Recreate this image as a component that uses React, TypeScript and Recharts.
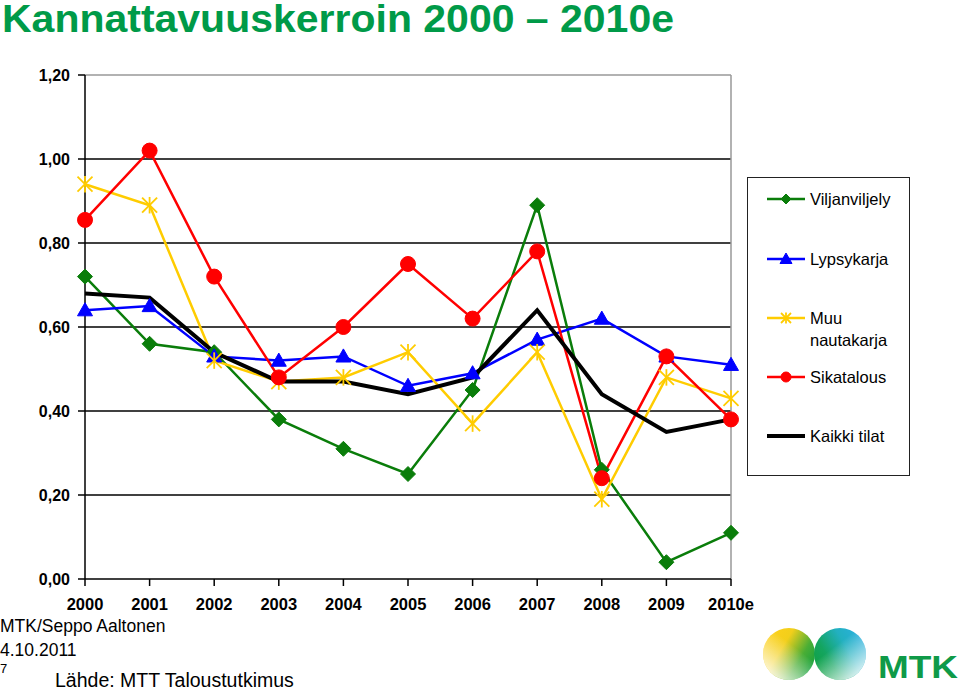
import React from "react";
import {
  LineChart,
  Line,
  XAxis,
  YAxis,
  ReferenceLine,
} from "recharts";

const years = ["2000", "2001", "2002", "2003", "2004", "2005", "2006", "2007", "2008", "2009", "2010e"];
const viljanviljely = [0.72, 0.56, 0.54, 0.38, 0.31, 0.25, 0.45, 0.89, 0.26, 0.04, 0.11];
const lypsykarja = [0.64, 0.65, 0.53, 0.52, 0.53, 0.46, 0.49, 0.57, 0.62, 0.53, 0.51];
const muuNautakarja = [0.94, 0.89, 0.52, 0.47, 0.48, 0.54, 0.37, 0.54, 0.19, 0.48, 0.43];
const sikatalous = [0.855, 1.02, 0.72, 0.48, 0.6, 0.75, 0.62, 0.78, 0.24, 0.53, 0.38];
const kaikkiTilat = [0.68, 0.67, 0.54, 0.47, 0.47, 0.44, 0.48, 0.64, 0.44, 0.35, 0.38];
const yTicks = [0, 0.2, 0.4, 0.6, 0.8, 1.0, 1.2];
const gridValues = [0.2, 0.4, 0.6, 0.8, 1.0];

const data = years.map((y, i) => ({
  year: y,
  vilja: viljanviljely[i],
  lypsy: lypsykarja[i],
  muu: muuNautakarja[i],
  sika: sikatalous[i],
  kaikki: kaikkiTilat[i],
}));

const GREEN = "#0a7d0a";
const BLUE = "#0000ff";
const YELLOW = "#ffcc00";
const RED = "#ff0000";
const BLACK = "#000000";
const FONT = "'Liberation Sans', Arial, sans-serif";

const Diamond = ({ cx, cy, s = 7.5 }: any) => (
  <path d={`M${cx},${cy - s} L${cx + s},${cy} L${cx},${cy + s} L${cx - s},${cy} Z`} fill={GREEN} stroke={GREEN} />
);
const Triangle = ({ cx, cy, s = 7.5 }: any) => (
  <path d={`M${cx},${cy - s} L${cx + s},${cy + s * 0.75} L${cx - s},${cy + s * 0.75} Z`} fill={BLUE} stroke={BLUE} />
);
const Star = ({ cx, cy, s = 7.5 }: any) => (
  <g stroke={YELLOW} strokeWidth={1.8}>
    <line x1={cx - s} y1={cy - s} x2={cx + s} y2={cy + s} />
    <line x1={cx - s} y1={cy + s} x2={cx + s} y2={cy - s} />
    <line x1={cx} y1={cy - s * 1.1} x2={cx} y2={cy + s * 1.1} />
  </g>
);
const Circle = ({ cx, cy, r = 7.5 }: any) => <circle cx={cx} cy={cy} r={r} fill={RED} stroke={RED} />;

const dotFn = (Comp: any) => (props: any) => {
  const { cx, cy, index } = props;
  if (cx == null || cy == null) return <g key={`d${index}`} />;
  return <Comp key={`d${index}`} cx={cx} cy={cy} />;
};

const legendItems = [
  { label: ["Viljanviljely"], color: GREEN, kind: "d", y: 21, w: 2.5 },
  { label: ["Lypsykarja"], color: BLUE, kind: "t", y: 81, w: 2.5 },
  { label: ["Muu", "nautakarja"], color: YELLOW, kind: "s", y: 140, w: 2.5 },
  { label: ["Sikatalous"], color: RED, kind: "c", y: 199, w: 2.5 },
  { label: ["Kaikki tilat"], color: BLACK, kind: "", y: 258, w: 4 },
];

const LegendBox = () => (
  <div
    style={{
      position: "absolute",
      left: 747,
      top: 177,
      width: 161,
      height: 297,
      border: "1.5px solid #222",
      background: "#fff",
      fontFamily: FONT,
      fontSize: 16.5,
      color: "#000",
    }}
  >
    {legendItems.map((it, i) => (
      <div key={i} style={{ position: "absolute", left: 0, top: it.y - 10, width: 160 }}>
        <svg width={60} height={20} style={{ position: "absolute", left: 0, top: 0 }}>
          <line x1={19} y1={10} x2={57} y2={10} stroke={it.color} strokeWidth={it.w} />
          {it.kind === "d" ? (
            <Diamond cx={38} cy={10} s={5} />
          ) : it.kind === "t" ? (
            <Triangle cx={38} cy={10} s={6} />
          ) : it.kind === "s" ? (
            <Star cx={38} cy={10} s={5} />
          ) : it.kind === "c" ? (
            <Circle cx={38} cy={10} r={5} />
          ) : null}
        </svg>
        <div style={{ position: "absolute", left: 62, top: -1, lineHeight: "22px", whiteSpace: "nowrap" }}>
          {it.label.map((l, j) => (
            <div key={j}>{l}</div>
          ))}
        </div>
      </div>
    ))}
  </div>
);

const fmt = (v: number) => v.toFixed(2).replace(".", ",");

export default function App() {
  return (
    <div
      style={{
        position: "fixed",
        left: 0,
        top: 0,
        width: 960,
        height: 690,
        background: "#fff",
        fontFamily: FONT,
        overflow: "hidden",
      }}
    >
      <svg width={960} height={50} style={{ position: "absolute", left: 0, top: 0 }}>
        <text
          x={2}
          y={32}
          fontFamily={FONT}
          fontWeight="bold"
          fontSize={38.5}
          fill="#009a48"
          textLength={672}
          lengthAdjust="spacingAndGlyphs"
        >
          Kannattavuuskerroin 2000 – 2010e
        </text>
      </svg>

      <div style={{ position: "absolute", left: 0, top: 0 }}>
        <LineChart
          width={960}
          height={690}
          data={data}
          margin={{ top: 75, right: 229, left: 0, bottom: 81 }}
        >
          {gridValues.map((v) => (
            <ReferenceLine key={v} y={v} stroke="#000" strokeWidth={1.5} />
          ))}
          <ReferenceLine y={1.2} stroke="#999" strokeWidth={1.5} />
          <ReferenceLine x="2010e" stroke="#999" strokeWidth={1.5} />
          <XAxis
            dataKey="year"
            height={30}
            stroke="#000"
            strokeWidth={1.5}
            tickSize={7}
            tickMargin={12}
            interval={0}
            tick={{ fill: "#000", fontSize: 16.5, fontWeight: "bold", fontFamily: FONT }}
          />
          <YAxis
            width={85}
            domain={[0, 1.2]}
            ticks={yTicks}
            interval={0}
            stroke="#000"
            strokeWidth={1.5}
            tickSize={7}
            tickMargin={8}
            tickFormatter={fmt}
            tick={{ fill: "#000", fontSize: 16, fontWeight: "bold", fontFamily: FONT }}
          />
          <Line dataKey="vilja" name="Viljanviljely" stroke={GREEN} strokeWidth={2.5} dot={dotFn(Diamond)} activeDot={false} isAnimationActive={false} />
          <Line dataKey="lypsy" name="Lypsykarja" stroke={BLUE} strokeWidth={2.5} dot={dotFn(Triangle)} activeDot={false} isAnimationActive={false} />
          <Line dataKey="muu" name="Muu nautakarja" stroke={YELLOW} strokeWidth={2.5} dot={dotFn(Star)} activeDot={false} isAnimationActive={false} />
          <Line dataKey="sika" name="Sikatalous" stroke={RED} strokeWidth={2.5} dot={dotFn(Circle)} activeDot={false} isAnimationActive={false} />
          <Line dataKey="kaikki" name="Kaikki tilat" stroke={BLACK} strokeWidth={4} dot={false} activeDot={false} isAnimationActive={false} />
        </LineChart>
      </div>

      <LegendBox />

      <div style={{ position: "absolute", left: 0, top: 618, fontSize: 17.5, lineHeight: "17px", color: "#000", whiteSpace: "nowrap" }}>
        MTK/Seppo Aaltonen
      </div>
      <div style={{ position: "absolute", left: 0, top: 642, fontSize: 17.5, lineHeight: "16px", color: "#000" }}>
        4.10.2011
      </div>
      <div style={{ position: "absolute", left: 0, top: 663, fontSize: 13, lineHeight: "11px", color: "#000" }}>
        7
      </div>
      <div style={{ position: "absolute", left: 55, top: 672, fontSize: 19.5, lineHeight: "17px", color: "#000", whiteSpace: "nowrap" }}>
        Lähde: MTT Taloustutkimus
      </div>

      <svg width={210} height={75} style={{ position: "absolute", left: 750, top: 615 }}>
        <defs>
          <linearGradient id="gy" x1="0" y1="0.2" x2="1" y2="0.8">
            <stop offset="0" stopColor="#ffd11a" />
            <stop offset="0.35" stopColor="#f2cf1b" />
            <stop offset="0.7" stopColor="#4aae35" />
            <stop offset="1" stopColor="#10a040" />
          </linearGradient>
          <linearGradient id="gb" x1="1" y1="0.2" x2="0" y2="0.8">
            <stop offset="0" stopColor="#2ab0e0" />
            <stop offset="0.35" stopColor="#22b0c0" />
            <stop offset="0.7" stopColor="#14a560" />
            <stop offset="1" stopColor="#10a040" />
          </linearGradient>
          <linearGradient id="wl" x1="0.6" y1="0.35" x2="0.1" y2="1">
            <stop offset="0" stopColor="#fff" stopOpacity="0" />
            <stop offset="1" stopColor="#fff" stopOpacity="0.95" />
          </linearGradient>
          <linearGradient id="wr" x1="0.4" y1="0.35" x2="0.9" y2="1">
            <stop offset="0" stopColor="#fff" stopOpacity="0" />
            <stop offset="1" stopColor="#fff" stopOpacity="0.95" />
          </linearGradient>
        </defs>
        <circle cx={39} cy={39} r={26} fill="url(#gy)" />
        <circle cx={39} cy={39} r={26} fill="url(#wl)" />
        <circle cx={90} cy={39} r={26} fill="url(#gb)" />
        <circle cx={90} cy={39} r={26} fill="url(#wr)" />
        <text x={128} y={63} fontFamily={FONT} fontWeight="bold" fontSize={32} fill="#0f9a48" textLength={80} lengthAdjust="spacingAndGlyphs">
          MTK
        </text>
      </svg>
    </div>
  );
}
